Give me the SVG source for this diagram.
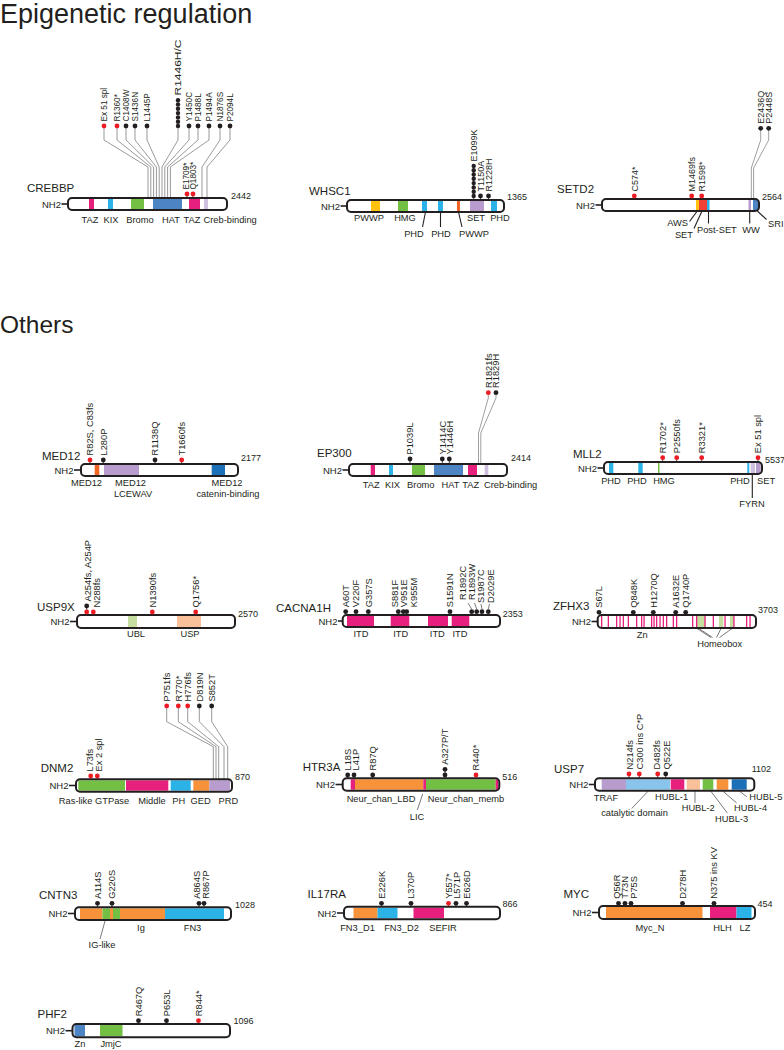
<svg xmlns="http://www.w3.org/2000/svg" width="784" height="1050" viewBox="0 0 784 1050">
<style>
text{font-family:"Liberation Sans",Arial,sans-serif;fill:#231f20}
.ti{font-size:27px}
.gn{font-size:11.5px}
.nh{font-size:9.5px;text-anchor:end}
.ln{font-size:9px}
.dl{font-size:9.3px;text-anchor:middle}
.ds{font-size:9.3px}
.de{font-size:9.3px;text-anchor:end}
.ml{font-size:9.3px}
.m9{font-size:9px}
.mc{font-size:8.2px}
.bw{fill:#fff}
.bo{fill:none;stroke:#231f20;stroke-width:2}
.r{fill:#ed1c24}
.k{fill:#231f20}
.cn{fill:none;stroke:#6d6e71;stroke-width:0.7}
.cg{fill:none;stroke:#a0a0a0;stroke-width:1}
.ld{fill:none;stroke:#231f20;stroke-width:1.1}
.ls{fill:none;stroke:#231f20;stroke-width:0.6}
.st{stroke:#231f20;stroke-width:0.8}
.nl{stroke:#231f20;stroke-width:1.6}
.pk{fill:#e8207d}
.cy{fill:#2bb3e8}
.gr{fill:#72bf44}
.sb{fill:#4c84c4}
.lv{fill:#cfc0e0}
.pu{fill:#b79ccd}
.or{fill:#f7923b}
.ye{fill:#ffc20e}
.ro{fill:#ef4136}
.db{fill:#1c70b8}
.lg{fill:#c6dfa0}
.pe{fill:#f9c09a}
.lb{fill:#88c4ec}
</style>

<text class="ti" x="0" y="23">Epigenetic regulation</text>
<text class="ti" style="font-size:24.5px" x="0" y="333">Others</text>

<g id="connectors">
<!-- CREBBP -->
<polyline class="cn" points="104,128 104,140 148,167 148,198"/>
<polyline class="cn" points="117,128 117,140 150.8,167 150.8,198"/>
<polyline class="cn" points="126,128 126,140 153.6,167 153.6,198"/>
<polyline class="cn" points="135,128 135,140 156.4,167 156.4,198"/>
<polyline class="cn" points="147,128 147,140 159.2,167 159.2,198"/>
<polyline class="cn" points="178,128 178,140 162,167 162,198"/>
<polyline class="cn" points="189,128 189,140 164.8,167 164.8,198"/>
<polyline class="cn" points="198,128 198,140 167.6,167 167.6,198"/>
<polyline class="cn" points="209,128 209,140 170.4,167 170.4,198"/>
<polyline class="cn" points="220,128 220,140 202,167 202,198"/>
<polyline class="cn" points="230,128 230,140 207,167 207,198"/>
<line class="st" x1="187" y1="194" x2="187" y2="198"/>
<line class="st" x1="193" y1="194" x2="193" y2="198"/>
<!-- WHSC1 -->
<line class="st" x1="473.7" y1="166" x2="473.7" y2="200"/>
<line class="st" x1="480.5" y1="196" x2="480.5" y2="200"/>
<line class="st" x1="488.5" y1="196" x2="488.5" y2="200"/>
<line class="ld" x1="425.5" y1="212" x2="422.5" y2="227"/>
<line class="ld" x1="440.5" y1="212" x2="440.5" y2="227"/>
<line class="ld" x1="458.5" y1="212" x2="462" y2="227"/>
<!-- SETD2 -->
<line class="st" x1="634.3" y1="196" x2="634.3" y2="199"/>
<line class="st" x1="691.7" y1="196" x2="691.7" y2="199"/>
<line class="st" x1="701.7" y1="196" x2="701.7" y2="199"/>
<polyline class="cg" points="760.7,130 760.7,140 751.3,168 751.3,199"/>
<polyline class="cg" points="768.7,130 768.7,140 753.6,168 753.6,199"/>
<line class="ld" x1="697.3" y1="211" x2="689.5" y2="221.5"/>
<line class="ld" x1="702" y1="211" x2="694" y2="228.5"/>
<line class="ld" x1="708.5" y1="211" x2="708.5" y2="223.5"/>
<line class="ld" x1="749.7" y1="211" x2="749.7" y2="223.5"/>
<line class="ld" x1="757.3" y1="211" x2="766.5" y2="219.5"/>
<!-- MED12 -->
<line class="st" x1="90" y1="460" x2="90" y2="464"/>
<line class="st" x1="103.3" y1="460" x2="103.3" y2="464"/>
<line class="st" x1="155" y1="460" x2="155" y2="464"/>
<line class="st" x1="181.7" y1="460" x2="181.7" y2="464"/>
<!-- EP300 -->
<line class="st" x1="410" y1="459" x2="410" y2="464"/>
<line class="st" x1="442.3" y1="459" x2="442.3" y2="464"/>
<line class="st" x1="449.3" y1="459" x2="449.3" y2="464"/>
<polyline class="cg" points="488.3,395 488.3,398 478.5,433 478.5,464"/>
<polyline class="cg" points="496,395 496,398 480.8,433 480.8,464"/>
<!-- MLL2 -->
<line class="st" x1="662.7" y1="458" x2="662.7" y2="462"/>
<line class="st" x1="676.7" y1="458" x2="676.7" y2="462"/>
<line class="st" x1="701.7" y1="458" x2="701.7" y2="462"/>
<line class="st" x1="758" y1="458" x2="758" y2="462"/>
<line class="ld" x1="752.3" y1="474" x2="752.3" y2="498"/>
<!-- USP9X -->
<line class="st" x1="86.7" y1="606" x2="86.7" y2="615"/>
<line class="st" x1="93.3" y1="612" x2="93.3" y2="615"/>
<line class="st" x1="152.3" y1="612" x2="152.3" y2="615"/>
<line class="st" x1="195.7" y1="612" x2="195.7" y2="615"/>
<!-- CACNA1H -->
<line class="ls" x1="471.7" y1="609" x2="468" y2="603"/>
<line class="ls" x1="476.7" y1="609" x2="474.5" y2="603"/>
<line class="ls" x1="482" y1="609" x2="481" y2="604"/>
<line class="ls" x1="488.3" y1="609" x2="489.5" y2="604"/>
<!-- ZFHX3 -->
<line class="ls" x1="711" y1="637.5" x2="697" y2="628.5"/>
<line class="ls" x1="712.5" y1="637.5" x2="699" y2="628.5"/>
<line class="ls" x1="716.5" y1="637.5" x2="721" y2="628.5"/>
<line class="ls" x1="719.5" y1="637.5" x2="732" y2="628.5"/>
<!-- DNM2 -->
<polyline class="cn" points="166.7,708 166.7,721.7 213.3,746.7 213.3,779"/>
<polyline class="cn" points="178.3,708 178.3,721.7 216,746.7 216,779"/>
<polyline class="cn" points="187.7,708 187.7,721.7 218.7,746.7 218.7,779"/>
<polyline class="cn" points="199.3,708 199.3,721.7 224,746.7 224,779"/>
<polyline class="cn" points="211.7,708 211.7,721.7 227.7,746.7 227.7,779"/>
<line class="st" x1="90.7" y1="776" x2="90.7" y2="779"/>
<line class="st" x1="97.3" y1="776" x2="97.3" y2="779"/>
<!-- HTR3A -->
<line class="ls" x1="422.7" y1="794" x2="417.3" y2="810"/>
<line class="st" x1="347.7" y1="775" x2="347.7" y2="778"/>
<line class="st" x1="354" y1="775" x2="354" y2="778"/>
<line class="st" x1="372.7" y1="775" x2="372.7" y2="778"/>
<line class="st" x1="445" y1="769" x2="445" y2="778"/>
<line class="st" x1="476" y1="775" x2="476" y2="778"/>
<!-- USP7 -->
<line class="ls" x1="648.3" y1="791" x2="631.7" y2="808.5"/>
<line class="ls" x1="695" y1="791" x2="695" y2="803"/>
<line class="ls" x1="710.7" y1="791" x2="727.3" y2="813"/>
<line class="ls" x1="722.7" y1="791" x2="736.7" y2="803"/>
<line class="ls" x1="739.3" y1="791" x2="746.7" y2="796.7"/>
<line class="st" x1="629" y1="774" x2="629" y2="778"/>
<line class="st" x1="639.3" y1="774" x2="639.3" y2="778"/>
<line class="st" x1="657.7" y1="774" x2="657.7" y2="778"/>
<line class="st" x1="665.7" y1="774" x2="665.7" y2="778"/>
<!-- CNTN3 -->
<line class="ls" x1="105" y1="921" x2="100" y2="939"/>
<line class="st" x1="97.5" y1="903.3" x2="97.5" y2="907"/>
<line class="st" x1="112" y1="903.3" x2="112" y2="907"/>
<line class="st" x1="199" y1="903.3" x2="199" y2="907"/>
<line class="st" x1="204" y1="903.3" x2="204" y2="907"/>
<!-- IL17RA -->
<line class="st" x1="381.5" y1="903.3" x2="381.5" y2="907"/>
<line class="st" x1="411" y1="903.3" x2="411" y2="907"/>
<line class="st" x1="448.5" y1="903.3" x2="448.5" y2="907"/>
<line class="st" x1="456" y1="903.3" x2="456" y2="907"/>
<line class="st" x1="466.5" y1="903.3" x2="466.5" y2="907"/>
<!-- MYC -->
<line class="st" x1="618.5" y1="903.3" x2="618.5" y2="906"/>
<line class="st" x1="625" y1="903.3" x2="625" y2="906"/>
<line class="st" x1="631" y1="903.3" x2="631" y2="906"/>
<line class="st" x1="682.5" y1="903.3" x2="682.5" y2="906"/>
<line class="st" x1="714" y1="903.3" x2="714" y2="906"/>
<!-- PHF2 -->
<line class="st" x1="138.5" y1="1020.7" x2="138.5" y2="1024"/>
<line class="st" x1="166.5" y1="1020.7" x2="166.5" y2="1024"/>
<line class="st" x1="198.5" y1="1020.7" x2="198.5" y2="1024"/>
</g>

<g id="CREBBP">
<text class="gn" x="27" y="192">CREBBP</text>
<text class="nh" x="61" y="207.5">NH2</text>
<line class="nl" x1="61.5" y1="204" x2="68" y2="204"/>
<rect class="bw" x="68" y="198" width="159" height="12" rx="4"/>
<rect class="pk" x="89" y="199" width="5" height="10"/>
<rect class="cy" x="108" y="199" width="5" height="10"/>
<rect class="gr" x="131" y="199" width="13" height="10"/>
<rect class="sb" x="153" y="199" width="29" height="10"/>
<rect class="pk" x="189" y="199" width="11" height="10"/>
<rect class="lv" x="204" y="199" width="4" height="10"/>
<rect class="bo" x="68" y="198" width="159" height="12" rx="4"/>
<text class="ln" x="231" y="199">2442</text>
<text class="dl" x="90" y="222.5">TAZ</text>
<text class="dl" x="111" y="222.5">KIX</text>
<text class="dl" x="140" y="222.5">Bromo</text>
<text class="dl" x="171" y="222.5">HAT</text>
<text class="dl" x="192" y="222.5">TAZ</text>
<text class="ds" x="203.5" y="222.5">Creb-binding</text>
<circle class="r" cx="104" cy="126" r="2.4"/>
<circle class="r" cx="117" cy="126" r="2.4"/>
<circle class="k" cx="126" cy="126" r="2.4"/>
<circle class="k" cx="135" cy="126" r="2.4"/>
<circle class="k" cx="147" cy="126" r="2.4"/>
<circle class="k" cx="178" cy="126" r="2.2"/>
<circle class="k" cx="178" cy="121.7" r="2.2"/>
<circle class="k" cx="178" cy="117.4" r="2.2"/>
<circle class="k" cx="178" cy="113.1" r="2.2"/>
<circle class="k" cx="178" cy="108.8" r="2.2"/>
<circle class="k" cx="178" cy="104.5" r="2.2"/>
<circle class="k" cx="178" cy="100.2" r="2.2"/>
<circle class="k" cx="189" cy="126" r="2.4"/>
<circle class="k" cx="198" cy="126" r="2.4"/>
<circle class="k" cx="209" cy="126" r="2.4"/>
<circle class="k" cx="220" cy="126" r="2.4"/>
<circle class="k" cx="230" cy="126" r="2.4"/>
<circle class="r" cx="187" cy="194" r="2.4"/>
<circle class="r" cx="193" cy="194" r="2.4"/>
<text class="mc" transform="translate(107,121.5) rotate(-90)">Ex 51 spl</text>
<text class="mc" transform="translate(120,121.5) rotate(-90)">R1360*</text>
<text class="mc" transform="translate(129,121.5) rotate(-90)">C1408W</text>
<text class="mc" transform="translate(138,121.5) rotate(-90)">S1436N</text>
<text class="mc" transform="translate(150,121.5) rotate(-90)">L1445P</text>
<text class="mc" textLength="56" lengthAdjust="spacingAndGlyphs" transform="translate(181,95.5) rotate(-90)">R1446H/C</text>
<text class="mc" transform="translate(192,121.5) rotate(-90)">Y1450C</text>
<text class="mc" transform="translate(201,121.5) rotate(-90)">P1488L</text>
<text class="mc" transform="translate(212,121.5) rotate(-90)">P1494A</text>
<text class="mc" transform="translate(223,121.5) rotate(-90)">N1876S</text>
<text class="mc" transform="translate(233,121.5) rotate(-90)">P2094L</text>
<text class="mc" transform="translate(189.3,189.5) rotate(-90)">E1709*</text>
<text class="mc" transform="translate(196.3,189.5) rotate(-90)">Q1803*</text>
</g>

<g id="WHSC1">
<text class="gn" x="309" y="195">WHSC1</text>
<text class="nh" x="340" y="209.5">NH2</text>
<line class="nl" x1="340.5" y1="206" x2="347" y2="206"/>
<rect class="bw" x="347" y="200" width="157" height="12" rx="4"/>
<rect class="ye" x="371" y="201" width="9" height="10"/>
<rect class="gr" x="398" y="201" width="10" height="10"/>
<rect class="cy" x="422" y="201" width="5" height="10"/>
<rect class="cy" x="438" y="201" width="5" height="10"/>
<rect fill="#f26522" x="457" y="201" width="3" height="10"/>
<rect class="pu" x="470" y="201" width="14" height="10"/>
<rect class="cy" x="491" y="201" width="6" height="10"/>
<rect class="bo" x="347" y="200" width="157" height="12" rx="4"/>
<text class="ln" x="507" y="200">1365</text>
<text class="dl" x="369" y="221">PWWP</text>
<text class="dl" x="405" y="221">HMG</text>
<text class="dl" x="476" y="221">SET</text>
<text class="dl" x="500" y="221">PHD</text>
<text class="dl" x="414" y="237">PHD</text>
<text class="dl" x="441" y="237">PHD</text>
<text class="dl" x="474" y="237">PWWP</text>
<circle class="k" cx="473.7" cy="196" r="2.2"/>
<circle class="k" cx="473.7" cy="191.7" r="2.2"/>
<circle class="k" cx="473.7" cy="187.4" r="2.2"/>
<circle class="k" cx="473.7" cy="183.1" r="2.2"/>
<circle class="k" cx="473.7" cy="178.8" r="2.2"/>
<circle class="k" cx="473.7" cy="174.5" r="2.2"/>
<circle class="k" cx="473.7" cy="170.2" r="2.2"/>
<circle class="k" cx="473.7" cy="165.9" r="2.2"/>
<circle class="k" cx="480.5" cy="196" r="2.4"/>
<circle class="k" cx="488.5" cy="196" r="2.4"/>
<text class="m9" transform="translate(476.9,161.5) rotate(-90)">E1099K</text>
<text class="m9" transform="translate(483.7,191.5) rotate(-90)">T1150A</text>
<text class="m9" transform="translate(491.7,191.5) rotate(-90)">R1228H</text>
</g>

<g id="SETD2">
<text class="gn" x="557" y="193">SETD2</text>
<text class="nh" x="595" y="208.5">NH2</text>
<line class="nl" x1="595.5" y1="205" x2="602" y2="205"/>
<rect class="bw" x="602" y="199" width="157" height="12" rx="4"/>
<rect class="ye" x="696" y="200" width="3" height="10"/>
<rect class="ro" x="699" y="200" width="8" height="10"/>
<rect class="cy" x="707" y="200" width="2.5" height="10"/>
<rect class="pu" x="748.5" y="200" width="2.5" height="10"/>
<rect class="sb" x="753" y="200" width="5" height="10"/>
<rect class="bo" x="602" y="199" width="157" height="12" rx="4"/>
<text class="ln" x="762" y="200">2564</text>
<text class="de" x="688" y="226">AWS</text>
<text class="de" x="693" y="237.5">SET</text>
<text class="ds" x="697" y="232.5">Post-SET</text>
<text class="dl" x="751" y="232.5">WW</text>
<text class="ds" x="768" y="227">SRI</text>
<circle class="r" cx="634.3" cy="196" r="2.4"/>
<circle class="r" cx="691.7" cy="196" r="2.4"/>
<circle class="r" cx="701.7" cy="196" r="2.4"/>
<circle class="k" cx="760.7" cy="128.3" r="2.4"/>
<circle class="k" cx="768.7" cy="128.3" r="2.4"/>
<text class="m9" transform="translate(637.5,191.5) rotate(-90)">C574*</text>
<text class="m9" transform="translate(694.9,191.5) rotate(-90)">M1469fs</text>
<text class="m9" transform="translate(704.9,191.5) rotate(-90)">R1598*</text>
<text class="m9" transform="translate(763.9,123.8) rotate(-90)">E2436Q</text>
<text class="m9" transform="translate(771.9,123.8) rotate(-90)">P2448S</text>
</g>

<g id="MED12">
<text class="gn" x="42" y="460">MED12</text>
<text class="nh" x="73.5" y="473.5">NH2</text>
<line class="nl" x1="74" y1="470" x2="81" y2="470"/>
<rect class="bw" x="81" y="464" width="157" height="12" rx="4"/>
<rect fill="#f26522" x="94.7" y="465" width="4.6" height="10"/>
<rect class="pu" x="104" y="465" width="35" height="10"/>
<rect class="db" x="211.7" y="465" width="13.3" height="10"/>
<rect class="bo" x="81" y="464" width="157" height="12" rx="4"/>
<text class="ln" x="241" y="461">2177</text>
<text class="dl" x="86.5" y="485.5">MED12</text>
<text class="dl" x="130.5" y="485.5">MED12</text>
<text class="dl" x="133" y="497">LCEWAV</text>
<text class="dl" x="227" y="485.5">MED12</text>
<text class="dl" x="228" y="497">catenin-binding</text>
<circle class="r" cx="90" cy="460" r="2.4"/>
<circle class="k" cx="103.3" cy="460" r="2.4"/>
<circle class="k" cx="155" cy="460" r="2.4"/>
<circle class="r" cx="181.7" cy="460" r="2.4"/>
<text class="ml" transform="translate(93.4,455.5) rotate(-90)">R82S, C83fs</text>
<text class="ml" transform="translate(106.7,455.5) rotate(-90)">L280P</text>
<text class="ml" transform="translate(158.4,455.5) rotate(-90)">R1138Q</text>
<text class="ml" transform="translate(185.1,455.5) rotate(-90)">T1660fs</text>
</g>

<g id="EP300">
<text class="gn" x="317" y="457">EP300</text>
<text class="nh" x="342" y="473.5">NH2</text>
<line class="nl" x1="342.5" y1="470" x2="349" y2="470"/>
<rect class="bw" x="349" y="464" width="158" height="12" rx="4"/>
<rect class="pk" x="370.7" y="465" width="4.3" height="10"/>
<rect class="cy" x="389" y="465" width="4" height="10"/>
<rect class="gr" x="412" y="465" width="13" height="10"/>
<rect class="sb" x="434" y="465" width="29" height="10"/>
<rect class="pk" x="468" y="465" width="9" height="10"/>
<rect class="lv" x="484.7" y="465" width="3.6" height="10"/>
<rect class="bo" x="349" y="464" width="158" height="12" rx="4"/>
<text class="ln" x="511" y="461">2414</text>
<text class="dl" x="371.3" y="487.5">TAZ</text>
<text class="dl" x="392.5" y="487.5">KIX</text>
<text class="dl" x="420.8" y="487.5">Bromo</text>
<text class="dl" x="450.5" y="487.5">HAT</text>
<text class="dl" x="470.8" y="487.5">TAZ</text>
<text class="ds" x="484" y="487.5">Creb-binding</text>
<circle class="k" cx="410" cy="459" r="2.4"/>
<circle class="k" cx="442.3" cy="459" r="2.4"/>
<circle class="k" cx="449.3" cy="459" r="2.4"/>
<circle class="r" cx="488.3" cy="392.7" r="2.4"/>
<circle class="k" cx="496" cy="392.7" r="2.4"/>
<text class="ml" transform="translate(413.4,454.5) rotate(-90)">P1039L</text>
<text class="ml" transform="translate(445.5,454.5) rotate(-90)">Y1414C</text>
<text class="ml" transform="translate(452.7,454.5) rotate(-90)">Y1446H</text>
<text class="ml" transform="translate(491.6,388) rotate(-90)">R1821fs</text>
<text class="ml" transform="translate(499.3,388) rotate(-90)">R1829H</text>
</g>

<g id="MLL2">
<text class="gn" x="573" y="458">MLL2</text>
<text class="nh" x="597" y="471.5">NH2</text>
<line class="nl" x1="597.5" y1="468" x2="604" y2="468"/>
<rect class="bw" x="604" y="462" width="158" height="12" rx="4"/>
<rect class="cy" x="609" y="463" width="4.3" height="10"/>
<rect class="cy" x="638.3" y="463" width="4.4" height="10"/>
<rect class="gr" x="658" y="463" width="1.5" height="10"/>
<rect class="cy" x="747.3" y="463" width="2" height="10"/>
<rect class="lv" x="750.7" y="463" width="4.3" height="10"/>
<rect class="pu" x="756" y="463" width="4.7" height="10"/>
<rect class="bo" x="604" y="462" width="158" height="12" rx="4"/>
<text class="ln" x="765" y="463">5537</text>
<text class="dl" x="611" y="484">PHD</text>
<text class="dl" x="637" y="484">PHD</text>
<text class="dl" x="664" y="484">HMG</text>
<text class="dl" x="740" y="484">PHD</text>
<text class="ds" x="757" y="484">SET</text>
<text class="dl" x="752" y="507">FYRN</text>
<circle class="r" cx="662.7" cy="457.7" r="2.4"/>
<circle class="r" cx="676.7" cy="457.7" r="2.4"/>
<circle class="r" cx="701.7" cy="457.7" r="2.4"/>
<circle class="r" cx="758" cy="457.7" r="2.4"/>
<text class="ml" transform="translate(666.1,453.2) rotate(-90)">R1702*</text>
<text class="ml" transform="translate(680.1,453.2) rotate(-90)">P2550fs</text>
<text class="ml" transform="translate(705.1,453.2) rotate(-90)">R3321*</text>
<text class="ml" transform="translate(761.4,453.2) rotate(-90)">Ex 51 spl</text>
</g>

<g id="USP9X">
<text class="gn" x="37" y="611">USP9X</text>
<text class="nh" x="69.5" y="625">NH2</text>
<line class="nl" x1="70" y1="621.5" x2="77" y2="621.5"/>
<rect class="bw" x="77" y="615" width="158" height="13" rx="4"/>
<rect class="lg" x="128" y="616" width="9" height="11"/>
<rect class="pe" x="177" y="616" width="24" height="11"/>
<rect class="bo" x="77" y="615" width="158" height="13" rx="4"/>
<text class="ln" x="238" y="617">2570</text>
<text class="dl" x="136" y="636.7">UBL</text>
<text class="dl" x="190" y="636.7">USP</text>
<circle class="k" cx="86.7" cy="606" r="2.4"/>
<circle class="r" cx="86.7" cy="612" r="2.4"/>
<circle class="r" cx="93.3" cy="612" r="2.4"/>
<circle class="r" cx="152.3" cy="612" r="2.4"/>
<circle class="r" cx="195.7" cy="612" r="2.4"/>
<text class="ml" transform="translate(91.2,601.5) rotate(-90)">A254fs, A254P</text>
<text class="ml" transform="translate(99.6,607.5) rotate(-90)">N288fs</text>
<text class="ml" transform="translate(155.7,607.5) rotate(-90)">N1390fs</text>
<text class="ml" transform="translate(199.1,607.5) rotate(-90)">Q1756*</text>
</g>

<g id="CACNA1H">
<text class="gn" x="276" y="611.7">CACNA1H</text>
<text class="nh" x="337.5" y="624.5">NH2</text>
<line class="nl" x1="338" y1="621" x2="342.7" y2="621"/>
<rect class="bw" x="342.7" y="615" width="157.3" height="12" rx="4"/>
<rect class="pk" x="347" y="616" width="27" height="10"/>
<rect class="pk" x="390.7" y="616" width="18.6" height="10"/>
<rect class="pk" x="428" y="616" width="20" height="10"/>
<rect class="pk" x="451.7" y="616" width="17.6" height="10"/>
<rect class="bo" x="342.7" y="615" width="157.3" height="12" rx="4"/>
<text class="ln" x="502.7" y="617">2353</text>
<text class="dl" x="361" y="636.7">ITD</text>
<text class="dl" x="400.7" y="636.7">ITD</text>
<text class="dl" x="437.3" y="636.7">ITD</text>
<text class="dl" x="460" y="636.7">ITD</text>
<circle class="k" cx="345.7" cy="611.7" r="2.4"/>
<circle class="k" cx="356" cy="611.7" r="2.4"/>
<circle class="k" cx="368.3" cy="611.7" r="2.4"/>
<circle class="k" cx="398.3" cy="611.7" r="2.4"/>
<circle class="k" cx="403.3" cy="611.7" r="2.4"/>
<circle class="k" cx="406.7" cy="611.7" r="2.4"/>
<circle class="k" cx="450" cy="611.7" r="2.4"/>
<circle class="k" cx="471.7" cy="611.7" r="2.4"/>
<circle class="k" cx="476.7" cy="611.7" r="2.4"/>
<circle class="k" cx="482" cy="611.7" r="2.4"/>
<circle class="k" cx="488.3" cy="611.7" r="2.4"/>
<text class="ml" transform="translate(349.1,607.2) rotate(-90)">A60T</text>
<text class="ml" transform="translate(359.4,607.2) rotate(-90)">V220F</text>
<text class="ml" transform="translate(371.7,607.2) rotate(-90)">G357S</text>
<text class="ml" transform="translate(398.4,607.2) rotate(-90)">S881F</text>
<text class="ml" transform="translate(406.7,607.2) rotate(-90)">V951E</text>
<text class="ml" transform="translate(416.7,607.2) rotate(-90)">K955M</text>
<text class="ml" transform="translate(453.4,607.2) rotate(-90)">S1591N</text>
<text class="ml" transform="translate(466.1,600) rotate(-90)">R1892C</text>
<text class="ml" transform="translate(475.1,600) rotate(-90)">R1893W</text>
<text class="ml" transform="translate(484.1,603) rotate(-90)">S1987C</text>
<text class="ml" transform="translate(494,603) rotate(-90)">D2029E</text>
</g>

<g id="ZFHX3">
<text class="gn" x="553" y="610">ZFHX3</text>
<text class="nh" x="591" y="625">NH2</text>
<line class="nl" x1="591.5" y1="621.5" x2="597.7" y2="621.5"/>
<rect class="bw" x="597.7" y="615" width="158.3" height="13" rx="4"/>
<rect class="lg" x="696" y="616" width="9" height="11"/>
<rect class="lg" x="719" y="616" width="4.3" height="11"/>
<rect class="lg" x="730" y="616" width="4" height="11"/>
<g class="pk">
<rect x="601" y="616" width="1.3" height="11"/>
<rect x="607.7" y="616" width="1.3" height="11"/>
<rect x="616" y="616" width="1.3" height="11"/>
<rect x="619.4" y="616" width="1.3" height="11"/>
<rect x="622.7" y="616" width="1.3" height="11"/>
<rect x="627.7" y="616" width="1.3" height="11"/>
<rect x="636" y="616" width="1.3" height="11"/>
<rect x="641" y="616" width="1.3" height="11"/>
<rect x="643.4" y="616" width="1.3" height="11"/>
<rect x="651" y="616" width="1.3" height="11"/>
<rect x="653.4" y="616" width="1.3" height="11"/>
<rect x="656" y="616" width="1.3" height="11"/>
<rect x="659.4" y="616" width="1.3" height="11"/>
<rect x="662.7" y="616" width="1.3" height="11"/>
<rect x="666" y="616" width="1.3" height="11"/>
<rect x="672.7" y="616" width="1.3" height="11"/>
<rect x="676" y="616" width="1.3" height="11"/>
<rect x="692" y="616" width="1.3" height="11"/>
<rect x="696" y="616" width="1.3" height="11"/>
<rect x="704.4" y="616" width="1.3" height="11"/>
<rect x="712.7" y="616" width="1.3" height="11"/>
<rect x="724.4" y="616" width="1.3" height="11"/>
<rect x="733.3" y="616" width="1.3" height="11"/>
<rect x="746" y="616" width="1.3" height="11"/>
<rect x="749.4" y="616" width="1.3" height="11"/>
</g>
<rect class="bo" x="597.7" y="615" width="158.3" height="13" rx="4"/>
<text class="ln" x="758" y="613.3">3703</text>
<text class="dl" x="642.3" y="637.7">Zn</text>
<text class="dl" x="719.7" y="646.5">Homeobox</text>
<circle class="k" cx="599" cy="612.3" r="2.4"/>
<circle class="k" cx="633.3" cy="612.3" r="2.4"/>
<circle class="k" cx="653.3" cy="612.3" r="2.4"/>
<circle class="k" cx="675.7" cy="612.3" r="2.4"/>
<circle class="k" cx="685.7" cy="612.3" r="2.4"/>
<text class="ml" transform="translate(602.4,607.8) rotate(-90)">S67L</text>
<text class="ml" transform="translate(636.7,607.8) rotate(-90)">Q848K</text>
<text class="ml" transform="translate(656.7,607.8) rotate(-90)">H1270Q</text>
<text class="ml" transform="translate(679.1,607.8) rotate(-90)">A1632E</text>
<text class="ml" transform="translate(689.1,607.8) rotate(-90)">Q1740P</text>
</g>

<g id="DNM2">
<text class="gn" x="40.7" y="771.7">DNM2</text>
<text class="nh" x="68.5" y="789">NH2</text>
<line class="nl" x1="69" y1="785.5" x2="76" y2="785.5"/>
<rect class="bw" x="76" y="779.3" width="156" height="12.4" rx="4"/>
<rect class="gr" x="78.3" y="780.3" width="46.7" height="10.4"/>
<rect class="pk" x="126" y="780.3" width="42.3" height="10.4"/>
<rect class="cy" x="170.7" y="780.3" width="20" height="10.4"/>
<rect class="or" x="193.3" y="780.3" width="16" height="10.4"/>
<rect class="pu" x="209.3" y="780.3" width="20.7" height="10.4"/>
<rect class="bo" x="76" y="779.3" width="156" height="12.4" rx="4"/>
<text class="ln" x="235" y="780">870</text>
<text class="dl" x="94" y="804">Ras-like GTPase</text>
<text class="dl" x="152" y="804">Middle</text>
<text class="dl" x="178.7" y="804">PH</text>
<text class="dl" x="200.7" y="804">GED</text>
<text class="dl" x="228.3" y="804">PRD</text>
<circle class="r" cx="90.7" cy="776" r="2.4"/>
<circle class="r" cx="97.3" cy="776" r="2.4"/>
<circle class="r" cx="166.7" cy="706" r="2.4"/>
<circle class="r" cx="178.3" cy="706" r="2.4"/>
<circle class="r" cx="187.7" cy="706" r="2.4"/>
<circle class="k" cx="199.3" cy="706" r="2.4"/>
<circle class="k" cx="211.7" cy="706" r="2.4"/>
<text class="ml" transform="translate(92.9,771.5) rotate(-90)">L73fs</text>
<text class="ml" transform="translate(102.4,771.5) rotate(-90)">Ex 2 spl</text>
<text class="ml" transform="translate(170.1,701.5) rotate(-90)">P751fs</text>
<text class="ml" transform="translate(181.7,701.5) rotate(-90)">R770*</text>
<text class="ml" transform="translate(191.1,701.5) rotate(-90)">H776fs</text>
<text class="ml" transform="translate(202.7,701.5) rotate(-90)">D819N</text>
<text class="ml" transform="translate(215.1,701.5) rotate(-90)">S852T</text>
</g>

<g id="HTR3A">
<text class="gn" x="302.7" y="770.7">HTR3A</text>
<text class="nh" x="335" y="788">NH2</text>
<line class="nl" x1="335.5" y1="784.5" x2="342.7" y2="784.5"/>
<rect class="bw" x="342.7" y="778.3" width="156.6" height="12.4" rx="4"/>
<rect class="pk" x="350.7" y="779.3" width="4.3" height="10.4"/>
<rect class="or" x="355" y="779.3" width="68.3" height="10.4"/>
<rect class="pk" x="423.3" y="779.3" width="2.7" height="10.4"/>
<rect class="gr" x="426" y="779.3" width="69.7" height="10.4"/>
<rect class="pk" x="495.7" y="779.3" width="2.6" height="10.4"/>
<rect class="bo" x="342.7" y="778.3" width="156.6" height="12.4" rx="4"/>
<text class="ln" x="502.3" y="780">516</text>
<text class="dl" x="381" y="802.3">Neur_chan_LBD</text>
<text class="dl" x="466" y="802.3">Neur_chan_memb</text>
<text class="dl" x="417" y="820">LIC</text>
<circle class="k" cx="347.7" cy="775" r="2.4"/>
<circle class="k" cx="354" cy="775" r="2.4"/>
<circle class="k" cx="372.7" cy="775" r="2.4"/>
<circle class="k" cx="445" cy="775" r="2.4"/>
<circle class="k" cx="445" cy="769.3" r="2.4"/>
<circle class="r" cx="476" cy="775" r="2.4"/>
<text class="ml" transform="translate(350.6,770.5) rotate(-90)">L18S</text>
<text class="ml" transform="translate(359.4,770.5) rotate(-90)">L41P</text>
<text class="ml" transform="translate(376.1,770.5) rotate(-90)">R87Q</text>
<text class="ml" transform="translate(448.4,764.8) rotate(-90)">A327P/T</text>
<text class="ml" transform="translate(479.4,770.5) rotate(-90)">R440*</text>
</g>

<g id="USP7">
<text class="gn" x="554" y="772.7">USP7</text>
<text class="nh" x="588.3" y="788">NH2</text>
<line class="nl" x1="588.8" y1="784.5" x2="595" y2="784.5"/>
<rect class="bw" x="595" y="778.3" width="159.3" height="12.4" rx="4"/>
<rect class="pu" x="601.7" y="779.3" width="24.3" height="10.4"/>
<rect class="lb" x="626" y="779.3" width="44" height="10.4"/>
<rect class="pk" x="670.7" y="779.3" width="13.6" height="10.4"/>
<rect class="pe" x="686.7" y="779.3" width="13.3" height="10.4"/>
<rect class="gr" x="702.7" y="779.3" width="10.6" height="10.4"/>
<rect class="or" x="716.7" y="779.3" width="11.6" height="10.4"/>
<rect class="db" x="731.7" y="779.3" width="15" height="10.4"/>
<rect class="bo" x="595" y="778.3" width="159.3" height="12.4" rx="4"/>
<text class="ln" x="751.7" y="771.7">1102</text>
<text class="dl" x="606" y="800.7">TRAF</text>
<text class="dl" x="634.5" y="816">catalytic domain</text>
<text class="ds" x="655" y="800">HUBL-1</text>
<text class="ds" x="681.7" y="810.7">HUBL-2</text>
<text class="ds" x="715" y="821.7">HUBL-3</text>
<text class="ds" x="734" y="810.7">HUBL-4</text>
<text class="ds" x="749.3" y="800">HUBL-5</text>
<circle class="r" cx="629" cy="774" r="2.4"/>
<circle class="r" cx="639.3" cy="774" r="2.4"/>
<circle class="r" cx="657.7" cy="774" r="2.4"/>
<circle class="k" cx="665.7" cy="774" r="2.4"/>
<text class="ml" transform="translate(632.9,769.5) rotate(-90)">N214fs</text>
<text class="ml" transform="translate(643.2,769.5) rotate(-90)">C300 ins C*P</text>
<text class="ml" transform="translate(660.3,769.5) rotate(-90)">D482fs</text>
<text class="ml" transform="translate(669.6,769.5) rotate(-90)">Q522E</text>
</g>

<g id="CNTN3">
<text class="gn" x="39" y="899.3">CNTN3</text>
<text class="nh" x="67.5" y="917">NH2</text>
<line class="nl" x1="68" y1="913.5" x2="75" y2="913.5"/>
<rect class="bw" x="75" y="907.3" width="156" height="12.7" rx="4"/>
<rect class="or" x="80" y="908.3" width="22.5" height="10.7"/>
<rect class="gr" x="102.5" y="908.3" width="7.5" height="10.7"/>
<rect class="or" x="110" y="908.3" width="3" height="10.7"/>
<rect class="gr" x="113" y="908.3" width="7" height="10.7"/>
<rect class="or" x="120" y="908.3" width="45" height="10.7"/>
<rect class="cy" x="165" y="908.3" width="59" height="10.7"/>
<rect class="bo" x="75" y="907.3" width="156" height="12.7" rx="4"/>
<text class="ln" x="235" y="908.3">1028</text>
<text class="dl" x="141" y="931">Ig</text>
<text class="dl" x="192.5" y="931">FN3</text>
<text class="dl" x="102" y="947.7">IG-like</text>
<circle class="k" cx="97.5" cy="903.3" r="2.4"/>
<circle class="k" cx="112" cy="903.3" r="2.4"/>
<circle class="k" cx="199" cy="903.3" r="2.4"/>
<circle class="k" cx="204" cy="903.3" r="2.4"/>
<text class="ml" transform="translate(100.9,898.8) rotate(-90)">A114S</text>
<text class="ml" transform="translate(115.4,898.8) rotate(-90)">G220S</text>
<text class="ml" transform="translate(199.6,898.8) rotate(-90)">A864S</text>
<text class="ml" transform="translate(208.8,898.8) rotate(-90)">R867P</text>
</g>

<g id="IL17RA">
<text class="gn" x="307.5" y="898.3">IL17RA</text>
<text class="nh" x="336.5" y="916.5">NH2</text>
<line class="nl" x1="337" y1="913" x2="344" y2="913"/>
<rect class="bw" x="344" y="906.7" width="156" height="12.6" rx="4"/>
<rect class="or" x="353.5" y="907.7" width="24" height="10.6"/>
<rect class="cy" x="377.5" y="907.7" width="20" height="10.6"/>
<rect class="pk" x="413.5" y="907.7" width="30.5" height="10.6"/>
<rect class="bo" x="344" y="906.7" width="156" height="12.6" rx="4"/>
<text class="ln" x="502.5" y="906.7">866</text>
<text class="dl" x="357.5" y="931">FN3_D1</text>
<text class="dl" x="401.5" y="931">FN3_D2</text>
<text class="dl" x="443" y="931">SEFIR</text>
<circle class="k" cx="381.5" cy="903.3" r="2.4"/>
<circle class="k" cx="411" cy="903.3" r="2.4"/>
<circle class="r" cx="448.5" cy="903.3" r="2.4"/>
<circle class="k" cx="456" cy="903.3" r="2.4"/>
<circle class="k" cx="466.5" cy="903.3" r="2.4"/>
<text class="ml" transform="translate(384.9,898.8) rotate(-90)">E226K</text>
<text class="ml" transform="translate(414.4,898.8) rotate(-90)">L370P</text>
<text class="ml" transform="translate(451.6,898.8) rotate(-90)">Y557*</text>
<text class="ml" transform="translate(459.6,898.8) rotate(-90)">L571P</text>
<text class="ml" transform="translate(469.9,898.8) rotate(-90)">E626D</text>
</g>

<g id="MYC">
<text class="gn" x="563.5" y="898.3">MYC</text>
<text class="nh" x="591.5" y="916">NH2</text>
<line class="nl" x1="592" y1="912.5" x2="599" y2="912.5"/>
<rect class="bw" x="599" y="906" width="156" height="13" rx="4"/>
<rect class="or" x="606" y="907" width="96.5" height="11"/>
<rect class="pk" x="710" y="907" width="26.5" height="11"/>
<rect class="cy" x="736.5" y="907" width="15" height="11"/>
<rect class="bo" x="599" y="906" width="156" height="13" rx="4"/>
<text class="ln" x="757.5" y="906.7">454</text>
<text class="dl" x="650" y="931">Myc_N</text>
<text class="dl" x="722.5" y="931">HLH</text>
<text class="dl" x="745" y="931">LZ</text>
<circle class="k" cx="618.5" cy="903.3" r="2.4"/>
<circle class="k" cx="625" cy="903.3" r="2.4"/>
<circle class="k" cx="631" cy="903.3" r="2.4"/>
<circle class="k" cx="682.5" cy="903.3" r="2.4"/>
<circle class="k" cx="714" cy="903.3" r="2.4"/>
<text class="ml" transform="translate(619.5,898.8) rotate(-90)">Q56R</text>
<text class="ml" transform="translate(628.4,898.8) rotate(-90)">T73N</text>
<text class="ml" transform="translate(637.3,898.8) rotate(-90)">P75S</text>
<text class="ml" transform="translate(685.9,898.8) rotate(-90)">D278H</text>
<text class="ml" transform="translate(717.4,898.8) rotate(-90)">N375 ins KV</text>
</g>

<g id="PHF2">
<text class="gn" x="37.5" y="1018.3">PHF2</text>
<text class="nh" x="65" y="1034">NH2</text>
<line class="nl" x1="65.5" y1="1030.7" x2="72.5" y2="1030.7"/>
<rect class="bw" x="72.5" y="1024" width="157.5" height="13.3" rx="4"/>
<rect class="sb" x="74.5" y="1025" width="10.5" height="11.3"/>
<rect class="gr" x="100" y="1025" width="22.5" height="11.3"/>
<rect class="bo" x="72.5" y="1024" width="157.5" height="13.3" rx="4"/>
<text class="ln" x="233.5" y="1024">1096</text>
<text class="dl" x="80" y="1046.7">Zn</text>
<text class="dl" x="111" y="1046.7">JmjC</text>
<circle class="k" cx="138.5" cy="1020.7" r="2.4"/>
<circle class="k" cx="166.5" cy="1020.7" r="2.4"/>
<circle class="r" cx="198.5" cy="1020.7" r="2.4"/>
<text class="ml" transform="translate(141.9,1016.2) rotate(-90)">R467Q</text>
<text class="ml" transform="translate(169.9,1016.2) rotate(-90)">P653L</text>
<text class="ml" transform="translate(201.9,1016.2) rotate(-90)">R844*</text>
</g>
</svg>
